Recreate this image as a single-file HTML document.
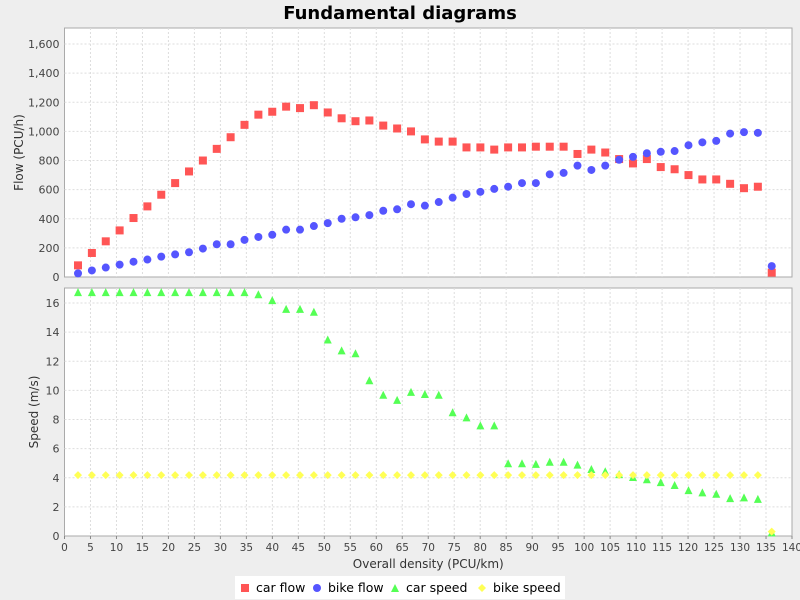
<!DOCTYPE html>
<html><head><meta charset="utf-8"><style>
body{margin:0;background:#eeeeee;font-family:"DejaVu Sans","Liberation Sans",sans-serif}
svg{display:block}
</style></head><body>
<svg id="c" width="800" height="600" xmlns="http://www.w3.org/2000/svg">
<rect width="800" height="600" fill="#eeeeee"/>
<text x="400" y="19" text-anchor="middle" font-size="18" font-weight="bold" fill="#000">Fundamental diagrams</text>
<g id="g"></g>
</svg>
<script>
const density = [];
for (let i = 0; i < 51; i++) density.push(+(2.6 + i * 2.67).toFixed(2));
const carFlow = [80,165,245,320,405,485,565,645,725,800,880,960,1045,1115,1135,1170,1160,1180,1130,1090,1070,1075,1040,1020,1000,945,930,930,890,890,875,890,890,895,895,895,845,875,855,810,780,810,755,740,700,670,670,640,610,620,30];
const bikeFlow = [25,45,65,85,105,120,140,155,170,195,225,225,255,275,290,325,325,350,370,400,410,425,455,465,500,490,515,545,570,585,605,620,645,645,705,715,765,735,765,805,825,850,860,865,905,925,935,985,995,990,75];
const carSpeed = [16.75,16.75,16.75,16.75,16.75,16.75,16.75,16.75,16.75,16.75,16.75,16.75,16.75,16.6,16.2,15.6,15.6,15.4,13.5,12.75,12.55,10.7,9.7,9.35,9.9,9.75,9.7,8.5,8.15,7.6,7.6,5.0,5.0,4.95,5.1,5.1,4.9,4.6,4.45,4.25,4.05,3.9,3.7,3.5,3.15,3.0,2.9,2.6,2.65,2.55,0.25];
const bikeSpeed = [];
for (let i = 0; i < 50; i++) bikeSpeed.push(4.18);
bikeSpeed.push(0.3);
const xTicks = [0,5,10,15,20,25,30,35,40,45,50,55,60,65,70,75,80,85,90,95,100,105,110,115,120,125,130,135,140];
const flowTicks = [0,200,400,600,800,1000,1200,1400,1600];
const speedTicks = [0,2,4,6,8,10,12,14,16];

const NS = "http://www.w3.org/2000/svg";
const g = document.getElementById('g');
const L = 64.5, R = 792;
const T1 = 28, B1 = 277, T2 = 288, B2 = 536;
const X = v => L + (v / 140) * (R - L);
const Y1 = v => B1 - v * 0.1456;
const Y2 = v => B2 - v * 14.56;
function el(tag, attrs, parent) {
  const e = document.createElementNS(NS, tag);
  for (const k in attrs) e.setAttribute(k, attrs[k]);
  (parent || g).appendChild(e);
  return e;
}
function fmt(n) { return n.toLocaleString('en-US'); }

// plot backgrounds
const p1 = el('rect', {x: L, y: T1, width: R - L, height: B1 - T1, fill: '#fff', stroke: '#aaa'});


const p2 = el('rect', {x: L, y: T2, width: R - L, height: B2 - T2, fill: '#fff', stroke: '#aaa'});



// grid
xTicks.forEach(t => {
  if (t === 0 || t === 140) return;
  [[T1, B1], [T2, B2]].forEach(([a, b]) => {
    const l = el('line', {x1: X(t), x2: X(t), y1: a, y2: b, stroke: '#ddd', 'stroke-dasharray': '2,2'});
    
    
  });
});
flowTicks.forEach(t => {
  if (t > 0) {
    const l = el('line', {x1: L, x2: R, y1: Y1(t), y2: Y1(t), stroke: '#ddd', 'stroke-dasharray': '2,2'});
    
    
  }
  const tx = el('text', {x: L - 5, y: Y1(t) + 4, 'text-anchor': 'end', 'font-size': 11, fill: '#444'});
  tx.textContent = fmt(t);
  
  
});
speedTicks.forEach(t => {
  if (t > 0) {
    const l = el('line', {x1: L, x2: R, y1: Y2(t), y2: Y2(t), stroke: '#ddd', 'stroke-dasharray': '2,2'});
    
    
  }
  const tx = el('text', {x: L - 5, y: Y2(t) + 4, 'text-anchor': 'end', 'font-size': 11, fill: '#444'});
  tx.textContent = fmt(t);
  
  
});
xTicks.forEach(t => {
  const tk = el('line', {x1: X(t), x2: X(t), y1: B2, y2: B2 + 3, stroke: '#888'});
  
  
  const tx = el('text', {x: X(t), y: B2 + 15, 'text-anchor': 'middle', 'font-size': 10.5, fill: '#444'});
  tx.textContent = t;
  
  
});

// axis titles
const xt = el('text', {x: (L + R) / 2, y: 568, 'text-anchor': 'middle', 'font-size': 12, fill: '#333'});
xt.textContent = 'Overall density (PCU/km)';


const yt1 = el('text', {x: 0, y: 0, 'text-anchor': 'middle', 'font-size': 12, fill: '#333', transform: `translate(23,${(T1 + B1) / 2}) rotate(-90)`});
yt1.textContent = 'Flow (PCU/h)';


const yt2 = el('text', {x: 0, y: 0, 'text-anchor': 'middle', 'font-size': 12, fill: '#333', transform: `translate(38,${(T2 + B2) / 2}) rotate(-90)`});
yt2.textContent = 'Speed (m/s)';



// markers
function square(x, y, c) { return el('rect', {x: x - 4, y: y - 4, width: 8, height: 8, fill: c}); }
function circle(x, y, c) { return el('circle', {cx: x, cy: y, r: 4, fill: c}); }
function tri(x, y, c) { return el('polygon', {points: `${x},${y - 4} ${x + 4},${y + 4} ${x - 4},${y + 4}`, fill: c}); }
function diamond(x, y, c) { return el('polygon', {points: `${x},${y - 4} ${x + 4},${y} ${x},${y + 4} ${x - 4},${y}`, fill: c}); }

density.forEach((d, i) => {
  let m = square(X(d), Y1(carFlow[i]), '#ff5555');
  
  
  m = circle(X(d), Y1(bikeFlow[i]), '#5555ff');
  
  
  m = tri(X(d), Y2(carSpeed[i]), '#55ff55');
  
  
  m = diamond(X(d), Y2(bikeSpeed[i]), '#ffff55');
  
  
});

// legend
const lg = el('g', {});


el('rect', {x: 235, y: 576, width: 330, height: 23, fill: '#fff'}, lg);
const items = [['car flow', square, '#ff5555', 245], ['bike flow', circle, '#5555ff', 317], ['car speed', tri, '#55ff55', 395], ['bike speed', diamond, '#ffff55', 482]];
items.forEach(([name, fn, c, x]) => {
  const m = fn(x, 588, c);
  
  
  const t = el('text', {x: x + 11, y: 592, 'font-size': 12.5, fill: '#000'});
  t.textContent = name;
  
  
});
</script>
</body></html>
